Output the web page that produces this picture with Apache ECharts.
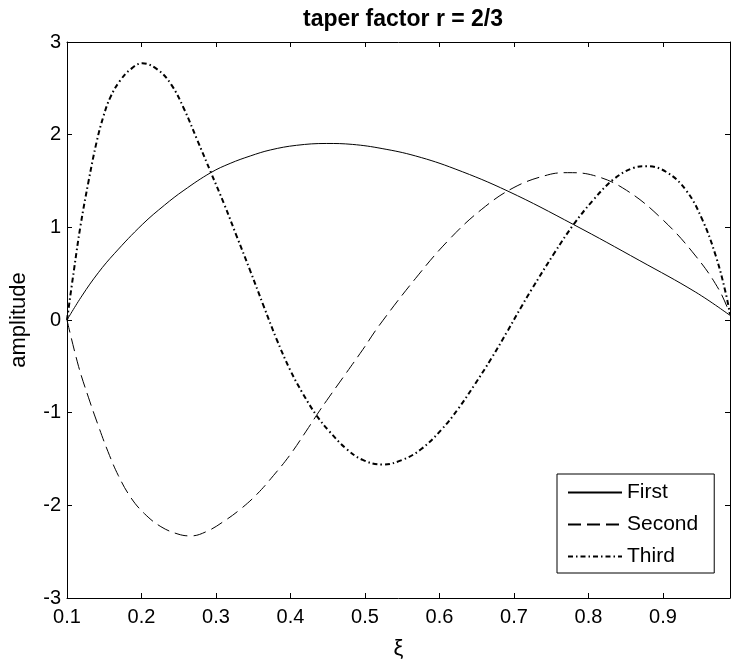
<!DOCTYPE html>
<html>
<head>
<meta charset="utf-8">
<script src="https://cdn.jsdelivr.net/npm/echarts@6/dist/echarts.min.js"></script>
<style>
  html, body { margin: 0; padding: 0; background: #fff; }
  #chart { width: 731px; height: 665px; }
</style>
</head>
<body>
<div id="chart"></div>
<script>
// mode shapes (xi, amplitude)
const firstXi = [0.1, 0.12, 0.142, 0.164, 0.201, 0.231, 0.257, 0.293, 0.319, 0.346, 0.373, 0.408, 0.448, 0.483, 0.523, 0.568, 0.621, 0.692, 0.78, 0.869, 0.944, 0.99];
const firstAmp = [0, 0.26, 0.51, 0.72, 1.03, 1.24, 1.40, 1.59, 1.69, 1.77, 1.835, 1.885, 1.905, 1.895, 1.85, 1.77, 1.63, 1.39, 1.03, 0.64, 0.30, 0.05];

const secondXi = [0.1, 0.1155, 0.129, 0.142, 0.155, 0.169, 0.186, 0.204, 0.226, 0.249, 0.266, 0.288, 0.311, 0.333, 0.355, 0.377, 0.399, 0.421, 0.439, 0.452, 0.475, 0.497, 0.519, 0.568, 0.612, 0.656, 0.70, 0.745, 0.772, 0.807, 0.851, 0.90, 0.944, 0.975, 0.99];
const secondAmp = [0, -0.50, -0.84, -1.14, -1.42, -1.68, -1.92, -2.09, -2.23, -2.31, -2.33, -2.28, -2.17, -2.04, -1.88, -1.68, -1.46, -1.20, -0.98, -0.83, -0.57, -0.32, -0.06, 0.45, 0.86, 1.19, 1.43, 1.565, 1.59, 1.56, 1.40, 1.08, 0.69, 0.33, 0.06];

const thirdXi = [0.1, 0.109, 0.118, 0.129, 0.14, 0.149, 0.158, 0.171, 0.186, 0.201, 0.222, 0.24, 0.257, 0.275, 0.293, 0.311, 0.328, 0.346, 0.364, 0.381, 0.399, 0.417, 0.435, 0.452, 0.475, 0.497, 0.523, 0.55, 0.576, 0.603, 0.625, 0.647, 0.67, 0.692, 0.709, 0.723, 0.754, 0.78, 0.807, 0.834, 0.86, 0.878, 0.904, 0.931, 0.953, 0.971, 0.984, 0.99];
const thirdAmp = [0, 0.52, 1.01, 1.50, 1.93, 2.20, 2.40, 2.58, 2.71, 2.77, 2.70, 2.54, 2.28, 1.94, 1.595, 1.25, 0.90, 0.53, 0.15, -0.20, -0.53, -0.80, -1.03, -1.20, -1.39, -1.51, -1.56, -1.51, -1.39, -1.18, -0.96, -0.70, -0.41, -0.11, 0.13, 0.32, 0.72, 1.03, 1.30, 1.52, 1.64, 1.66, 1.60, 1.40, 1.08, 0.69, 0.30, 0.06];

const xMin = 0.1, xMax = 0.99;
const yTicks = [-3, -2, -1, 0, 1, 2, 3];

const FONT = "'Liberation Sans', Arial, sans-serif";
const pairs = (xs, ys) => xs.map((x, i) => [x, ys[i]]);

const tickStyle = { inside: true, length: 5, lineStyle: { color: "#000", width: 1 } };
const lineStyle = { lineStyle: { color: "#000", width: 1 } };

const chart = echarts.init(document.getElementById("chart"), null, { renderer: "canvas" });
chart.setOption({
  animation: false,
  backgroundColor: "#fff",
  title: {
    text: "taper factor r = 2/3",
    left: 398,
    textAlign: "center",
    top: 3,
    textStyle: { fontFamily: FONT, fontSize: 23, fontWeight: "bold", color: "#000" },
  },
  grid: { left: 62, right: 1, top: 42, bottom: 64 },
  legend: {
    orient: "vertical",
    left: 557,
    top: 474,
    padding: [8, 16, 6, 10],
    itemGap: 11,
    itemWidth: 54,
    itemHeight: 14,
    backgroundColor: "#fff",
    borderColor: "#000",
    borderWidth: 1,
    itemStyle: { opacity: 0 },
    textStyle: { fontFamily: FONT, fontSize: 21, lineHeight: 21, color: "#000" },
    data: ["First", "Second", "Third"],
  },
  xAxis: [
    {
      type: "value",
      position: "bottom",
      min: xMin,
      max: xMax,
      interval: 0.1,
      axisLine: { show: true, onZero: false, ...lineStyle },
      axisTick: tickStyle,
      splitLine: { show: false },
      axisLabel: {
        color: "#000",
        fontFamily: FONT,
        fontSize: 20,
        margin: 9,
        showMaxLabel: false,
        formatter: (v) => v.toFixed(1),
      },
      name: "ξ",
      nameLocation: "middle",
      nameGap: 40,
      nameTextStyle: { fontFamily: FONT, fontSize: 22, color: "#000" },
    },
    {
      type: "value",
      position: "top",
      min: xMin,
      max: xMax,
      interval: 0.1,
      axisLine: { show: true, onZero: false, ...lineStyle },
      axisTick: tickStyle,
      splitLine: { show: false },
      axisLabel: { show: false },
    },
  ],
  yAxis: [
    {
      type: "value",
      position: "left",
      min: yTicks[0],
      max: yTicks[yTicks.length - 1],
      interval: 1,
      axisLine: { show: true, onZero: false, ...lineStyle },
      axisTick: tickStyle,
      splitLine: { show: false },
      axisLabel: { color: "#000", fontFamily: FONT, fontSize: 20, margin: 6 },
      name: "amplitude",
      nameLocation: "middle",
      nameGap: 37,
      nameTextStyle: { fontFamily: FONT, fontSize: 22, color: "#000" },
    },
    {
      type: "value",
      position: "right",
      min: yTicks[0],
      max: yTicks[yTicks.length - 1],
      interval: 1,
      axisLine: { show: true, onZero: false, ...lineStyle },
      axisTick: tickStyle,
      splitLine: { show: false },
      axisLabel: { show: false },
    },
  ],
  series: [
    {
      name: "First",
      type: "line",
      data: pairs(firstXi, firstAmp),
      smooth: 0.4,
      symbol: "none",
      lineStyle: { color: "#000", width: 1 },
      itemStyle: { color: "#000" },
    },
    {
      name: "Second",
      type: "line",
      data: pairs(secondXi, secondAmp),
      smooth: 0.4,
      symbol: "none",
      lineStyle: { color: "#000", width: 1, type: [13, 6] },
      itemStyle: { color: "#000" },
    },
    {
      name: "Third",
      type: "line",
      data: pairs(thirdXi, thirdAmp),
      smooth: 0.4,
      symbol: "none",
      lineStyle: { color: "#000", width: 2, type: [5, 3, 1.5, 3] },
      itemStyle: { color: "#000" },
    },
  ],
});
</script>
</body>
</html>
